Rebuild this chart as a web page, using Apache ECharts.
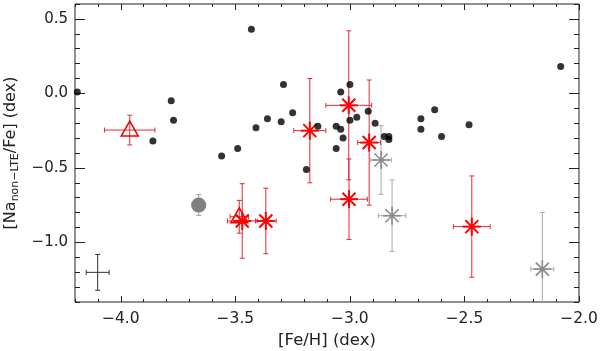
<!DOCTYPE html>
<html>
<head>
<meta charset="utf-8">
<script src="https://cdn.jsdelivr.net/npm/echarts@6/dist/echarts.min.js"></script>
<style>
  html, body { margin: 0; padding: 0; background: #fff; }
  #chart { width: 600px; height: 351px; }
</style>
</head>
<body>
<div id="chart"></div>
<script>
// black dots: [Fe/H], [Na/Fe]
const dotFeH = [-4.19, -3.86, -3.78, -3.77, -3.56, -3.49, -3.43, -3.41, -3.36, -3.30, -3.29,
  -3.25, -3.19, -3.14, -3.06, -3.06, -3.04, -3.04, -3.03, -3.00, -3.00, -2.97, -2.92,
  -2.89, -2.85, -2.83, -2.83, -2.69, -2.69, -2.63, -2.60, -2.48, -2.08];
const dotNa = [0.01, -0.32, -0.05, -0.18, -0.42, -0.37, 0.43, -0.23, -0.17, -0.19, 0.06,
  -0.13, -0.51, -0.22, -0.22, -0.37, 0.01, -0.24, -0.30, 0.06, -0.18, -0.16, -0.12,
  -0.20, -0.29, -0.29, -0.31, -0.17, -0.24, -0.11, -0.29, -0.21, 0.18];

// red asterisks with errors
const redStarFeH = [-3.175, -3.005, -3.004, -2.916, -3.470, -3.367, -2.468];
const redStarNa = [-0.25, -0.08, -0.71, -0.33, -0.856, -0.856, -0.894];
const redStarErrFeH = [0.07, 0.10, 0.08, 0.05, 0.065, 0.045, 0.08];
const redStarErrNa = [0.35, 0.50, 0.27, 0.42, 0.25, 0.22, 0.34];

// red open triangles
const redTriFeH = [-3.961, -3.483];
const redTriNa = [-0.246, -0.828];
const redTriErrFeH = [0.11, 0.04];
const redTriErrNa = [0.10, 0.11];

// grey asterisks
const greyStarFeH = [-2.864, -2.816, -2.160];
const greyStarNa = [-0.447, -0.821, -1.179];
const greyStarErrFeH = [0.045, 0.06, 0.05];
const greyStarErrNa = [0.23, 0.24, 0.38];

// grey filled circle
const greyDotFeH = [-3.660];
const greyDotNa = [-0.749];
const greyDotErrFeH = [0.03];
const greyDotErrNa = [0.07];

// typical error bar (black cross)
const typFeH = [-4.101];
const typNa = [-1.201];
const typErrFeH = [0.05];
const typErrNa = [0.12];

// axes
const xMin = -4.2, xMax = -2.0;
const yMin = -1.4, yMax = 0.6;
const xMajor = [-4.0, -3.5, -3.0, -2.5, -2.0];
const yMajor = [-1.0, -0.5, 0.0, 0.5];

function steps(a, b) {
  const out = [];
  for (let i = Math.round(a * 10); i <= Math.round(b * 10); i++) out.push(i / 10);
  return out;
}
const xMinor = steps(xMin, xMax);
const yMinor = steps(yMin, yMax);

function zip(x, y, ex, ey) {
  return x.map((v, i) => [v, y[i], ex[i], ey[i]]);
}

function fmt(v) {
  const s = Math.abs(v).toFixed(1);
  return v < -1e-9 ? '\u2212' + s : s;
}

const font = 'DejaVu Sans, Liberation Sans, sans-serif';

function makeRender(marker, markColor, barColor, markWidth) {
  return function (params, api) {
    const x = api.value(0), y = api.value(1), ex = api.value(2), ey = api.value(3);
    const c = api.coord([x, y]);
    const l = api.coord([x - ex, y]);
    const r = api.coord([x + ex, y]);
    const t = api.coord([x, y + ey]);
    const b = api.coord([x, y - ey]);
    const cap = 2.5;
    const bar = { stroke: barColor, lineWidth: 1 };
    const line = (x1, y1, x2, y2, st) => ({
      type: 'line', shape: { x1, y1, x2, y2 }, style: st
    });
    const children = [
      line(l[0], l[1], r[0], r[1], bar),
      line(l[0], l[1] - cap, l[0], l[1] + cap, bar),
      line(r[0], r[1] - cap, r[0], r[1] + cap, bar),
      line(t[0], t[1], b[0], b[1], bar),
      line(t[0] - cap, t[1], t[0] + cap, t[1], bar),
      line(b[0] - cap, b[1], b[0] + cap, b[1], bar)
    ];
    const ms = { stroke: markColor, lineWidth: markWidth, fill: null };
    if (marker === 'star') {
      const s = 9, d = 6.5;
      children.push(
        line(c[0] - s, c[1], c[0] + s, c[1], ms),
        line(c[0], c[1] - s, c[0], c[1] + s, ms),
        line(c[0] - d, c[1] - d, c[0] + d, c[1] + d, ms),
        line(c[0] - d, c[1] + d, c[0] + d, c[1] - d, ms)
      );
    } else if (marker === 'triangle') {
      children.push({
        type: 'polygon',
        shape: { points: [[c[0], c[1] - 9], [c[0] - 8.5, c[1] + 6], [c[0] + 8.5, c[1] + 6]] },
        style: ms
      });
    } else if (marker === 'circle') {
      children.push({
        type: 'circle', shape: { cx: c[0], cy: c[1], r: 7.5 },
        style: { fill: markColor }
      });
    }
    return { type: 'group', children };
  };
}

const chart = echarts.init(document.getElementById('chart'), null, { renderer: 'canvas' });

const tickStyle = { color: '#222', width: 1 };

function xAx(pos, ticks, len, labels) {
  return {
    type: 'value', min: xMin, max: xMax, position: pos,
    axisLine: { show: false, onZero: false },
    splitLine: { show: false },
    axisTick: { show: true, inside: true, length: len, customValues: ticks, lineStyle: tickStyle },
    axisLabel: labels ? {
      show: true, customValues: xMajor, formatter: fmt, margin: 9,
      fontFamily: font, fontSize: 15.5, color: '#222'
    } : { show: false }
  };
}
function yAx(pos, ticks, len, labels) {
  return {
    type: 'value', min: yMin, max: yMax, position: pos,
    axisLine: { show: false, onZero: false },
    splitLine: { show: false },
    axisTick: { show: true, inside: true, length: len, customValues: ticks, lineStyle: tickStyle },
    axisLabel: labels ? {
      show: true, customValues: yMajor, formatter: fmt, margin: 7,
      fontFamily: font, fontSize: 15, color: '#222'
    } : { show: false }
  };
}

const xAxes = [
  xAx('bottom', xMajor, 6, true),
  xAx('bottom', xMinor, 3, false),
  xAx('top', xMajor, 6, false),
  xAx('top', xMinor, 3, false)
];
Object.assign(xAxes[0], {
  name: '[Fe/H] (dex)', nameLocation: 'middle', nameGap: 26,
  nameTextStyle: { fontFamily: font, fontSize: 16.5, color: '#222' }
});

const yAxes = [
  yAx('left', yMajor, 10, true),
  yAx('left', yMinor, 5, false),
  yAx('right', yMajor, 10, false),
  yAx('right', yMinor, 5, false)
];
Object.assign(yAxes[0], {
  name: '{a|[Na}{s|non\u2212LTE}{a|/Fe] (dex)}', nameLocation: 'middle', nameGap: 48,
  nameTextStyle: {
    rich: {
      a: { fontFamily: font, fontSize: 16, color: '#222', lineHeight: 20 },
      s: { fontFamily: font, fontSize: 11, color: '#222', lineHeight: 20, padding: [9, 0, 0, 0] }
    }
  }
});

chart.setOption({
  animation: false,
  backgroundColor: '#fff',
  grid: {
    left: 75, right: 21, top: 4, bottom: 49,
    outerBoundsMode: 'none',
    containLabel: false,
    show: true, borderColor: '#222', borderWidth: 1, backgroundColor: 'transparent'
  },
  xAxis: xAxes,
  yAxis: yAxes,
  series: [
    {
      type: 'custom', clip: true, name: 'typical',
      renderItem: makeRender('none', '#333', '#333', 1),
      data: zip(typFeH, typNa, typErrFeH, typErrNa)
    },
    {
      type: 'scatter', name: 'stars',
      symbol: 'circle', symbolSize: 7,
      itemStyle: { color: '#000' },
      data: dotFeH.map((v, i) => [v, dotNa[i]])
    },
    {
      type: 'custom', clip: true, name: 'grey circle',
      renderItem: makeRender('circle', '#808080', '#a0a0a0', 1),
      data: zip(greyDotFeH, greyDotNa, greyDotErrFeH, greyDotErrNa)
    },
    {
      type: 'custom', clip: true, name: 'grey stars',
      renderItem: makeRender('star', '#8a8a8a', '#a8a8a8', 1.6),
      data: zip(greyStarFeH, greyStarNa, greyStarErrFeH, greyStarErrNa)
    },
    {
      type: 'custom', clip: true, name: 'red triangles',
      renderItem: makeRender('triangle', '#f00000', '#e02a35', 1.5),
      data: zip(redTriFeH, redTriNa, redTriErrFeH, redTriErrNa)
    },
    {
      type: 'custom', clip: true, name: 'red stars',
      renderItem: makeRender('star', '#ff0000', '#e02a35', 2),
      data: zip(redStarFeH, redStarNa, redStarErrFeH, redStarErrNa)
    }
  ]
});
</script>
</body>
</html>
